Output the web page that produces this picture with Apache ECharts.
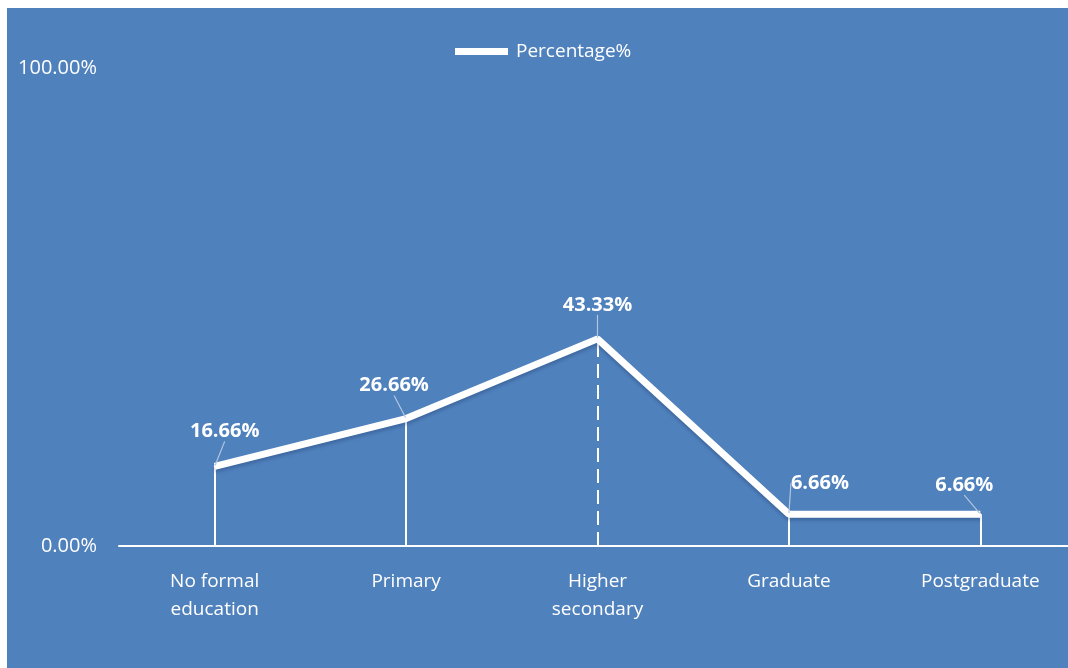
<!DOCTYPE html>
<html>
<head>
<meta charset="utf-8">
<script src="https://cdn.jsdelivr.net/npm/echarts@6/dist/echarts.min.js"></script>
<style>
  html, body { margin: 0; padding: 0; background: #ffffff; }
  #panel { position: absolute; left: 7px; top: 8px; width: 1061px; height: 660px; background: #4f81bd; }
  #chart { position: absolute; left: 0; top: 0; width: 1068px; height: 668px; }
</style>
</head>
<body>
<div id="panel"></div>
<div id="chart"></div>
<script>
// Education level distribution
const categories = ['No formal\neducation', 'Primary', 'Higher\nsecondary', 'Graduate', 'Postgraduate'];
const percentages = [16.66, 26.66, 43.33, 6.66, 6.66];
const seriesName = 'Percentage%';
const yTicks = [0, 100];

// label nudges (px) for each point's value label
const labelShift = [[10, -19], [-12, -17], [0, -18], [31, -15], [-16, -13]];
// drop line style per point
const dropDashed = [false, false, true, false, false];

const chart = echarts.init(document.getElementById('chart'), null, { renderer: 'canvas' });

const dropLines = percentages.map((v, i) => [
  { coord: [i, 0], lineStyle: { type: dropDashed[i] ? [14, 7] : 'solid' } },
  { coord: [i, v] }
]);

chart.setOption({
  backgroundColor: 'transparent',
  animation: false,
  legend: {
    data: [seriesName],
    left: 455,
    top: 42,
    padding: 0,
    icon: 'rect',
    itemWidth: 53,
    itemHeight: 7,
    textStyle: { color: '#ffffff', fontSize: 19, fontFamily: 'Open Sans', padding: [0, 0, 0, 3] }
  },
  grid: { left: 119, width: 957, top: 68, bottom: 122, outerBoundsMode: 'none' },
  xAxis: {
    type: 'category',
    data: categories,
    boundaryGap: true,
    axisLine: { show: true, lineStyle: { color: '#ffffff', width: 2 } },
    axisTick: { show: false },
    axisLabel: {
      color: '#ffffff',
      fontSize: 19,
      fontFamily: 'Open Sans',
      margin: 22,
      lineHeight: 28,
      interval: 0
    }
  },
  yAxis: {
    type: 'value',
    min: yTicks[0],
    max: yTicks[yTicks.length - 1],
    interval: yTicks[1] - yTicks[0],
    axisLine: { show: false },
    axisTick: { show: false },
    splitLine: { show: false },
    axisLabel: {
      color: '#ffffff',
      fontSize: 20,
      fontFamily: 'Open Sans',
      margin: 22,
      formatter: v => v.toFixed(2) + '%'
    }
  },
  series: [{
    name: seriesName,
    type: 'line',
    data: percentages,
    symbol: 'circle',
    symbolSize: 2,
    itemStyle: { color: '#ffffff' },
    lineStyle: {
      color: '#ffffff',
      width: 7,
      shadowColor: 'rgba(20, 40, 80, 0.25)',
      shadowBlur: 3,
      shadowOffsetY: 3
    },
    label: {
      show: true,
      position: 'top',
      color: '#ffffff',
      fontWeight: 'bold',
      fontSize: 20,
      fontFamily: 'Open Sans',
      formatter: p => p.value.toFixed(2) + '%'
    },
    labelLine: { show: true, lineStyle: { color: '#b4c6de', width: 1.2 } },
    labelLayout: p => ({ dx: labelShift[p.dataIndex][0], dy: labelShift[p.dataIndex][1] }),
    markLine: {
      silent: true,
      symbol: 'none',
      label: { show: false },
      lineStyle: { color: '#ffffff', width: 2, type: 'solid' },
      data: dropLines,
      z: 1
    },
    z: 3
  }]
});
</script>
</body>
</html>
